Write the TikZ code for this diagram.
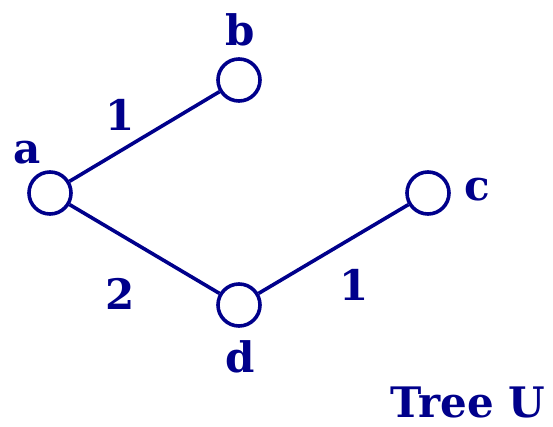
\documentclass[tikz,border=0pt]{standalone}
\usepackage{fontspec}
\setmainfont{DejaVu Serif}
\definecolor{navy}{HTML}{00008B}
\begin{document}
\begin{tikzpicture}[x=1pt,y=-1pt,
  vtx/.style={circle,draw=navy,line width=3.6pt,minimum size=42pt,inner sep=0pt},
  edge/.style={draw=navy,line width=3.6pt},
  lbl/.style={text=navy,font=\fontsize{42}{46}\selectfont\bfseries,inner sep=0pt}]
\useasboundingbox (0,0) rectangle (553,427);
\node[vtx] (a) at (50,193) {};
\node[vtx] (b) at (239,80) {};
\node[vtx] (c) at (428,193) {};
\node[vtx] (d) at (239,305) {};
\draw[edge] (a) -- (b);
\draw[edge] (a) -- (d);
\draw[edge] (d) -- (c);
\node[lbl] (la) at (27,153) {a};
\node[lbl] (lb) at (240,30) {b};
\node[lbl] (lc) at (477,190) {c};
\node[lbl] (ld) at (240,357) {d};
\node[lbl] (w1) at (120,115) {1};
\node[lbl] (w2) at (120,294) {2};
\node[lbl] (w3) at (354,285) {1};
\node[lbl] (title) at (468,402) {Tree U};
\end{tikzpicture}
\end{document}
